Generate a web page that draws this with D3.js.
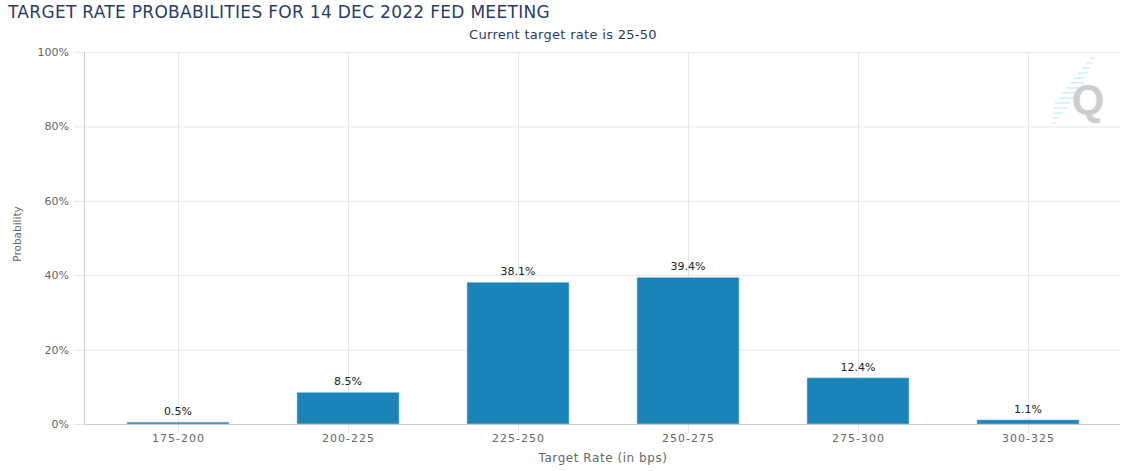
<!DOCTYPE html>
<html>
<head>
<meta charset="utf-8">
<script src="https://cdn.jsdelivr.net/npm/d3@7"></script>
<style>
  body { margin: 0; background: #fff; }
  svg { display: block; font-family: "DejaVu Sans", Verdana, sans-serif; }
</style>
</head>
<body>
<script>
// Chart data
const categories = ["175-200", "200-225", "225-250", "250-275", "275-300", "300-325"];
const probabilities = [0.5, 8.5, 38.1, 39.4, 12.4, 1.1];
const yTicks = [0, 20, 40, 60, 80, 100];

const width = 1125;
const height = 471;
const plot = { left: 85, right: 1120, top: 52, bottom: 424 };

const svg = d3.select("body")
  .append("svg")
  .attr("width", width)
  .attr("height", height);

// Scales
const x = d3.scaleBand()
  .domain(categories)
  .range([93, 1113])
  .paddingInner(0.4)
  .paddingOuter(0.2);

const xCenter = d => x(d) + x.bandwidth() / 2;

const y = d3.scaleLinear()
  .domain([0, 100])
  .range([plot.bottom, plot.top]);

// Horizontal grid + y labels
svg.append("g")
  .selectAll("line")
  .data(yTicks)
  .enter()
  .append("line")
  .attr("x1", 74)
  .attr("x2", plot.right)
  .attr("y1", d => y(d) + 0.5)
  .attr("y2", d => y(d) + 0.5)
  .attr("stroke", "#e6e6e6");

svg.append("g")
  .selectAll("text")
  .data(yTicks)
  .enter()
  .append("text")
  .attr("x", 69)
  .attr("y", d => y(d) + 4)
  .attr("text-anchor", "end")
  .attr("font-size", 11)
  .attr("fill", "#666")
  .text(d => d + "%");

// Vertical grid at category centers (extends a bit below the axis as tick)
svg.append("g")
  .selectAll("line")
  .data(categories)
  .enter()
  .append("line")
  .attr("x1", d => Math.round(xCenter(d)) + 0.5)
  .attr("x2", d => Math.round(xCenter(d)) + 0.5)
  .attr("y1", plot.top)
  .attr("y2", plot.bottom + 9)
  .attr("stroke", "#e6e6e6");

// Axis lines
svg.append("line")
  .attr("x1", plot.left - 0.5).attr("x2", plot.left - 0.5)
  .attr("y1", plot.top).attr("y2", plot.bottom)
  .attr("stroke", "#ccc");

svg.append("line")
  .attr("x1", plot.left).attr("x2", plot.right)
  .attr("y1", plot.bottom + 0.5).attr("y2", plot.bottom + 0.5)
  .attr("stroke", "#ccc");

// Watermark logo (decorative)
const logo = svg.append("g").attr("opacity", 0.9);
const dashes = [
  [1090, 58, 4], [1086, 63, 6], [1082, 68, 8], [1078, 73, 10], [1074, 78, 12],
  [1070, 83, 14], [1066, 88, 16], [1062, 93, 18], [1058, 98, 18], [1055, 103, 16],
  [1054, 108, 14], [1053, 113, 10], [1052, 118, 6], [1052, 123, 4]
];
logo.selectAll("line")
  .data(dashes)
  .enter()
  .append("line")
  .attr("x1", d => d[0]).attr("x2", d => d[0] + d[2])
  .attr("y1", d => d[1]).attr("y2", d => d[1])
  .attr("stroke", "#c9eefb")
  .attr("stroke-width", 1.5);
logo.append("text")
  .attr("x", 1088)
  .attr("y", 114)
  .attr("text-anchor", "middle")
  .attr("font-size", 42)
  .attr("font-weight", "bold")
  .attr("font-family", "Liberation Sans, Arial, sans-serif")
  .attr("fill", "#c8c8c8")
  .text("Q");

// Bars
svg.append("g")
  .selectAll("rect")
  .data(probabilities)
  .enter()
  .append("rect")
  .attr("x", (d, i) => x(categories[i]))
  .attr("y", d => y(d))
  .attr("width", x.bandwidth())
  .attr("height", d => y(0) - y(d))
  .attr("fill", "#1a84b8")
  .attr("stroke", "#9fd0ea")
  .attr("stroke-width", 0.6);

// Data labels
svg.append("g")
  .selectAll("text")
  .data(probabilities)
  .enter()
  .append("text")
  .attr("x", (d, i) => xCenter(categories[i]))
  .attr("y", d => y(d) - 7)
  .attr("text-anchor", "middle")
  .attr("font-size", 11)
  .attr("fill", "#222")
  .text(d => d.toFixed(1) + "%");

// X tick labels
svg.append("g")
  .selectAll("text")
  .data(categories)
  .enter()
  .append("text")
  .attr("x", d => xCenter(d) + 0.5)
  .attr("y", 442)
  .attr("text-anchor", "middle")
  .attr("font-size", 11)
  .attr("letter-spacing", 1)
  .attr("fill", "#666")
  .text(d => d);

// Axis titles
svg.append("text")
  .attr("x", 603)
  .attr("y", 462)
  .attr("text-anchor", "middle")
  .attr("font-size", 12)
  .attr("letter-spacing", 0.55)
  .attr("fill", "#666")
  .text("Target Rate (in bps)");

svg.append("text")
  .attr("transform", "translate(21,234) rotate(-90)")
  .attr("text-anchor", "middle")
  .attr("font-size", 10.5)
  .attr("fill", "#666")
  .text("Probability");

// Title and subtitle
svg.append("text")
  .attr("x", 8)
  .attr("y", 18)
  .attr("font-size", 17)
  .attr("letter-spacing", 0.3)
  .attr("fill", "#2a3c66")
  .text("TARGET RATE PROBABILITIES FOR 14 DEC 2022 FED MEETING");

svg.append("text")
  .attr("x", 563)
  .attr("y", 39)
  .attr("text-anchor", "middle")
  .attr("font-size", 13)
  .attr("letter-spacing", 0.3)
  .attr("fill", "#2a3c66")
  .text("Current target rate is 25-50");
</script>
</body>
</html>
